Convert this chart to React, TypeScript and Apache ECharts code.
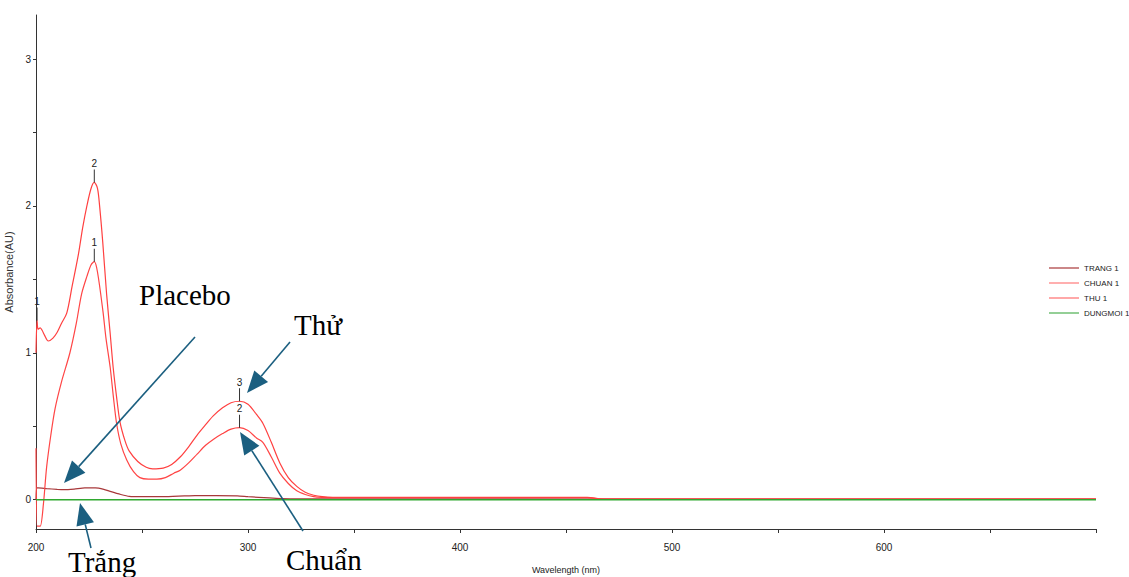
import React, { useEffect, useRef } from "react";
import * as echarts from "echarts";

// ---- data ----
const thuX = [200, 200.5, 201, 202, 203, 204, 205.8, 208, 210, 212, 214.5, 217, 220, 222, 224, 226, 227.5, 229, 230, 231.5, 233.3, 235, 236.4, 238, 239.6, 242, 244, 248, 252, 255, 260, 264, 268, 272, 276, 280, 283.6, 288, 292, 296, 300, 304, 307, 311, 315, 319, 323, 327, 331, 335, 340, 350, 400, 460, 468, 700];
const thuY = [1.0, 1.22, 1.16, 1.17, 1.15, 1.12, 1.08, 1.1, 1.14, 1.2, 1.27, 1.45, 1.67, 1.85, 2.0, 2.12, 2.16, 2.12, 2.0, 1.75, 1.4, 1.13, 0.9, 0.7, 0.53, 0.4, 0.33, 0.26, 0.22, 0.21, 0.215, 0.24, 0.29, 0.36, 0.44, 0.51, 0.57, 0.625, 0.66, 0.67, 0.65, 0.58, 0.52, 0.39, 0.25, 0.15, 0.09, 0.05, 0.03, 0.02, 0.016, 0.016, 0.016, 0.015, 0.003, 0.003];

const chuanX = [200, 200.5, 201, 202, 203.5, 205, 207, 209, 212, 216, 219, 221.5, 224, 226, 227.5, 229, 231.6, 233, 235, 236.5, 238, 240, 242.8, 246, 249, 253, 257, 261, 265, 268, 272, 276, 280, 283.6, 288, 292, 296, 300, 304, 307, 311, 315, 319, 323, 327, 331, 335, 340, 460, 468, 700];
const chuanY = [0.35, -0.18, -0.18, -0.18, -0.03, 0.22, 0.44, 0.62, 0.8, 1.0, 1.2, 1.4, 1.52, 1.6, 1.62, 1.55, 1.28, 1.1, 0.9, 0.7, 0.52, 0.38, 0.27, 0.19, 0.15, 0.14, 0.14, 0.15, 0.18, 0.2, 0.25, 0.31, 0.37, 0.41, 0.45, 0.48, 0.49, 0.47, 0.42, 0.39, 0.29, 0.18, 0.11, 0.06, 0.035, 0.02, 0.015, 0.013, 0.013, 0.003, 0.003];

const trangX = [200, 200.3, 201, 205, 210, 213, 218, 223, 228, 232, 235, 240, 244, 250, 260, 270, 275, 285, 295, 300, 310, 316, 320, 330, 700];
const trangY = [0.0, 0.08, 0.08, 0.075, 0.07, 0.068, 0.072, 0.08, 0.08, 0.07, 0.056, 0.035, 0.022, 0.02, 0.02, 0.025, 0.027, 0.027, 0.025, 0.02, 0.012, 0.007, 0.006, 0.005, 0.003];

const dungmoiX = [200, 700];
const dungmoiY = [0, 0];

const seriesNames = ["TRANG 1", "CHUAN 1", "THU 1", "DUNGMOI 1"];

// peak labels: [wavelength, absorbance, label]
const thuPeaks: [number, number, string][] = [[200.5, 1.22, "1"], [227.5, 2.16, "2"], [296, 0.67, "3"]];
const chuanPeaks: [number, number, string][] = [[227.5, 1.62, "1"], [296, 0.49, "2"]];

const xTickValues = [200, 250, 300, 350, 400, 450, 500, 550, 600, 650, 700];
const xLabelValues = [200, 300, 400, 500, 600];
const yTickValues = [0, 0.5, 1, 1.5, 2, 2.5, 3];
const yLabelValues = [0, 1, 2, 3];

// annotations: text and arrows (pixel positions on the page)
const annotations = [
  { text: "Placebo", x: 139, y: 295 },
  { text: "Thử", x: 294, y: 325 },
  { text: "Chuẩn", x: 286, y: 560 },
  { text: "Trắng", x: 68, y: 562 },
];
const arrows = [
  { from: [195, 337], to: [64, 483] },
  { from: [290, 342], to: [247, 393] },
  { from: [303, 531], to: [240, 432] },
  { from: [91, 548], to: [80, 503] },
];

const zip = (xs: number[], ys: number[]) => xs.map((x, i) => [x, ys[i]]);

const SANS = "'Liberation Sans Narrow', 'Liberation Sans', Arial, sans-serif";
const SERIF = "'Liberation Serif', 'Times New Roman', serif";
const ARROW = "#1b5f80";

function arrowGraphics(from: number[], to: number[]) {
  const dx = to[0] - from[0];
  const dy = to[1] - from[1];
  const len = Math.hypot(dx, dy);
  const ux = dx / len, uy = dy / len;
  const headLen = 22, half = 9;
  const bx = to[0] - ux * headLen, by = to[1] - uy * headLen;
  const px = -uy, py = ux;
  return [
    {
      type: "line",
      shape: { x1: from[0], y1: from[1], x2: bx, y2: by },
      style: { stroke: ARROW, lineWidth: 1.6 },
      z: 100,
    },
    {
      type: "polygon",
      shape: {
        points: [
          [to[0], to[1]],
          [bx + px * half, by + py * half],
          [bx - px * half, by - py * half],
        ],
      },
      style: { fill: ARROW },
      z: 100,
    },
  ];
}

function peakMark(peaks: [number, number, string][]) {
  return {
    symbol: "rect",
    symbolSize: [1, 13],
    symbolOffset: [0, -6.5],
    itemStyle: { color: "#333" },
    label: {
      show: true,
      position: "top",
      distance: 1,
      formatter: "{b}",
      color: "#222",
      fontSize: 10,
      fontFamily: SANS,
    },
    data: peaks.map((p) => ({ name: p[2], coord: [p[0], p[1]] })),
  };
}

export default function App() {
  const ref = useRef<HTMLDivElement>(null);
  useEffect(() => {
    if (!ref.current) return;
    const chart = echarts.init(ref.current, undefined, { renderer: "svg" });
    const graphic: any[] = [];
    annotations.forEach((a) =>
      graphic.push({
        type: "text",
        x: a.x,
        y: a.y,
        style: { text: a.text, font: `29px ${SERIF}`, fill: "#000", verticalAlign: "middle", align: "left" },
        z: 100,
      })
    );
    arrows.forEach((ar) => graphic.push(...arrowGraphics(ar.from, ar.to)));

    chart.setOption({
      animation: false,
      backgroundColor: "#fff",
      grid: { left: 36, right: 33, top: 15, bottom: 48, containLabel: false, outerBoundsMode: "none" },
      legend: {
        orient: "vertical",
        left: 1044,
        top: 259,
        itemWidth: 30,
        itemHeight: 8,
        itemGap: 7,
        icon: "path://M0,4 L30,4 L30,5.2 L0,5.2 Z",
        textStyle: { fontSize: 8, fontFamily: SANS, color: "#222" },
        data: seriesNames,
      },
      xAxis: {
        type: "value",
        min: 200,
        max: 700,
        name: "Wavelength (nm)",
        nameLocation: "middle",
        nameGap: 36,
        nameTextStyle: { fontSize: 9, fontFamily: SANS, color: "#222" },
        axisLine: { onZero: false, lineStyle: { color: "#333", width: 1 } },
        axisTick: { show: true, length: 4, customValues: xTickValues, lineStyle: { color: "#333" } },
        axisLabel: { customValues: xLabelValues, fontSize: 10, fontFamily: SANS, color: "#222", margin: 13 },
        splitLine: { show: false },
      },
      yAxis: {
        type: "value",
        min: -0.2,
        max: 3.3,
        name: "Absorbance(AU)",
        nameLocation: "middle",
        nameGap: 13,
        nameTextStyle: { fontSize: 11, fontFamily: SANS, color: "#333" },
        axisLine: { show: true, onZero: false, lineStyle: { color: "#333", width: 1 } },
        axisTick: { show: true, length: 3, customValues: yTickValues, lineStyle: { color: "#333" } },
        axisLabel: { customValues: yLabelValues, fontSize: 10, fontFamily: SANS, color: "#222", margin: 5 },
        splitLine: { show: false },
      },
      series: [
        {
          name: "TRANG 1",
          type: "line",
          data: zip(trangX, trangY),
          showSymbol: false,
          symbol: "none",
          smooth: 0.2,
          color: "#a8383a",
          lineStyle: { width: 1.2, color: "#a8383a" },
          z: 3,
        },
        {
          name: "CHUAN 1",
          type: "line",
          data: zip(chuanX, chuanY),
          showSymbol: false,
          symbol: "none",
          smooth: 0.3,
          color: "#ff7a7a",
          lineStyle: { width: 1.2, color: "#ff4545" },
          markPoint: peakMark(chuanPeaks),
          z: 4,
        },
        {
          name: "THU 1",
          type: "line",
          data: zip(thuX, thuY),
          showSymbol: false,
          symbol: "none",
          smooth: 0.3,
          color: "#ff6e6e",
          lineStyle: { width: 1.2, color: "#ff4040" },
          markPoint: peakMark(thuPeaks),
          z: 4,
        },
        {
          name: "DUNGMOI 1",
          type: "line",
          data: zip(dungmoiX, dungmoiY),
          showSymbol: false,
          symbol: "none",
          color: "#4caf50",
          lineStyle: { width: 1.5, color: "#2fa82f" },
          z: 6,
        },
      ],
      graphic,
    });
    return () => chart.dispose();
  }, []);
  return <div ref={ref} style={{ position: "fixed", left: 0, top: 0, width: 1129, height: 577 }} />;
}
